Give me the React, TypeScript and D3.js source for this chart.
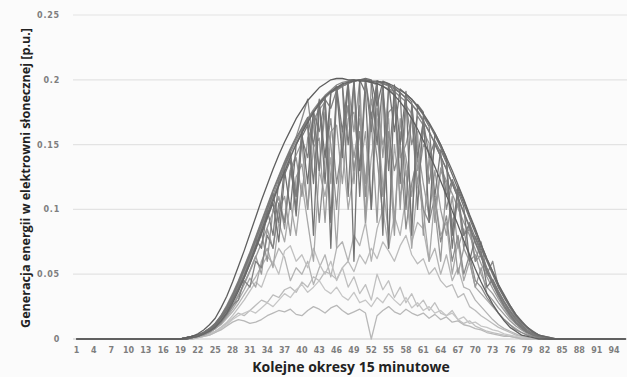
import * as d3 from "d3";

// 15-minute periods of the day
const periods = d3.range(1, 97);
// values below start at period 20 and end at period 84; outside that the plant produces 0
const firstPeriod = 20;

const yTicks = [0, 0.05, 0.1, 0.15, 0.2, 0.25];
const yTickLabels = ["0", "0.05", "0.1", "0.15", "0.2", "0.25"];

// daily generation profiles [p.u.], periods 20..84
const dayA = [.001,.002,.004,.007,.011,.016,.024,.033,.044,.056, .068,.081,.094,.107,.119,.131,.142,.152,.161,.170, .177,.184,.189,.194,.197,.200,.201,.201,.200,.200, .199,.199,.198,.197,.195,.192,.188,.183,.177,.170, .162,.153,.143,.133,.122,.111,.099,.088,.076,.065, .054,.044,.035,.027,.020,.014,.009,.006,.003,.002, .001,0,0,0,0];
const dayB = [.001,.002,.003,.005,.008,.012,.018,.025,.034,.044, .055,.066,.078,.090,.102,.114,.125,.136,.146,.155, .163,.171,.150,.185,.120,.190,.195,.160,.199,.200, .130,.200,.198,.150,.197,.196,.194,.190,.186,.181, .140,.168,.160,.151,.141,.131,.120,.109,.098,.087, .075,.064,.053,.043,.034,.026,.019,.013,.009,.005, .003,.002,.001,0,0];
const dayC = [0,.001,.002,.004,.006,.009,.014,.020,.028,.037, .047,.058,.070,.082,.094,.106,.118,.129,.140,.150, .159,.167,.175,.182,.187,.191,.194,.197,.198,.199, .200,.200,.199,.199,.198,.197,.195,.192,.189,.185, .180,.174,.167,.159,.150,.140,.130,.119,.108,.096, .085,.073,.062,.052,.042,.034,.026,.019,.014,.009, .006,.003,.002,.001,0];
const dayD = [.001,.002,.003,.005,.008,.012,.017,.024,.033,.043, .054,.065,.077,.070,.100,.112,.090,.134,.144,.100, .160,.168,.120,.182,.187,.090,.194,.196,.150,.199, .110,.200,.170,.199,.080,.197,.190,.120,.188,.183, .100,.172,.164,.110,.146,.136,.070,.114,.102,.060, .079,.068,.040,.046,.037,.029,.022,.016,.011,.007, .004,.002,.001,0,0];
const dayE = [.001,.001,.002,.004,.006,.009,.013,.019,.026,.030, .045,.040,.060,.055,.080,.070,.105,.090,.130,.110, .155,.140,.175,.160,.185,.178,.192,.195,.197,.199, .200,.200,.199,.198,.197,.195,.193,.190,.186,.181, .175,.168,.160,.151,.141,.131,.120,.109,.097,.086, .074,.063,.052,.042,.033,.025,.018,.012,.008,.005, .003,.001,.001,0,0];
const dayF = [.001,.002,.003,.004,.007,.010,.015,.021,.029,.038, .048,.059,.070,.082,.060,.100,.110,.085,.128,.140, .110,.155,.165,.130,.175,.150,.100,.160,.180,.140, .170,.120,.185,.160,.110,.175,.180,.140,.150,.170, .120,.150,.145,.100,.130,.120,.090,.105,.080,.085, .060,.065,.050,.045,.035,.028,.020,.014,.010,.006, .004,.002,.001,0,0];
const dayG = [0,.001,.002,.004,.006,.010,.014,.020,.028,.037, .047,.058,.069,.081,.093,.105,.075,.127,.138,.095, .156,.165,.080,.180,.186,.070,.193,.140,.198,.060, .200,.190,.100,.199,.198,.070,.196,.150,.191,.080, .181,.175,.090,.159,.150,.140,.080,.118,.107,.095, .084,.073,.062,.052,.042,.033,.026,.019,.013,.009, .005,.003,.001,0,0];
const dayH = [.001,.002,.003,.005,.008,.011,.016,.023,.031,.041, .052,.063,.075,.087,.099,.111,.123,.134,.144,.153, .162,.170,.177,.183,.188,.192,.196,.198,.199,.200, .200,.199,.198,.197,.195,.193,.191,.187,.183,.150, .172,.165,.120,.150,.141,.100,.121,.110,.070,.090, .060,.075,.050,.060,.040,.032,.024,.017,.012,.008, .005,.003,.001,0,0];
const dayI = [.001,.001,.003,.004,.007,.011,.016,.022,.030,.040, .050,.062,.073,.085,.097,.109,.120,.131,.141,.151, .160,.168,.175,.181,.186,.190,.193,.150,.196,.120, .180,.110,.170,.090,.190,.150,.080,.170,.130,.090, .160,.080,.140,.100,.060,.120,.090,.050,.070,.060, .040,.055,.035,.030,.024,.019,.014,.010,.007,.004, .002,.001,0,0,0];
const dayJ = [.001,.001,.002,.004,.006,.009,.013,.019,.026,.034, .043,.053,.064,.050,.085,.070,.100,.110,.080,.125, .135,.100,.148,.155,.090,.160,.165,.120,.170,.175, .130,.160,.100,.178,.150,.170,.090,.160,.140,.110, .150,.120,.095,.130,.100,.080,.110,.070,.085,.060, .065,.050,.040,.035,.028,.022,.016,.012,.008,.005, .003,.001,.001,0,0];
const dayK = [0,.001,.002,.003,.005,.008,.012,.017,.023,.030, .038,.047,.040,.060,.070,.055,.090,.075,.105,.080, .120,.090,.060,.130,.110,.140,.070,.150,.100,.130, .160,.090,.140,.170,.120,.080,.150,.110,.130,.070, .120,.100,.060,.110,.080,.090,.050,.075,.045,.060, .040,.035,.030,.025,.020,.015,.011,.008,.005,.003, .002,.001,0,0,0];
const dayL = [.001,.002,.003,.005,.007,.011,.016,.022,.030,.039, .049,.060,.072,.084,.096,.108,.119,.130,.100,.150, .159,.120,.175,.181,.140,.190,.193,.196,.198,.199, .200,.201,.200,.180,.199,.197,.160,.193,.189,.185, .179,.173,.166,.157,.148,.138,.127,.116,.105,.093, .082,.070,.060,.050,.040,.032,.025,.018,.013,.009, .005,.003,.002,.001,0];
const dayM = [0,.001,.002,.003,.004,.006,.009,.013,.018,.024, .030,.037,.044,.040,.052,.060,.050,.068,.072,.060, .065,.055,.070,.058,.050,.060,.045,.055,.040,.048, .035,.042,.030,.050,.038,.045,.032,.040,.028,.035, .025,.030,.022,.028,.020,.018,.022,.015,.012,.014, .010,.008,.006,.005,.004,.003,.002,.001,.001,0, 0,0,0,0,0];
const dayN = [0,0,.001,.002,.003,.005,.008,.011,.015,.018, .020,.022,.020,.024,.028,.025,.030,.035,.032,.038, .042,.036,.040,.045,.038,.035,.040,.033,.030,.036, .028,.030,.025,.032,.028,.035,.030,.026,.032,.024, .028,.022,.025,.020,.022,.018,.020,.015,.017,.012, .013,.010,.009,.007,.006,.004,.003,.002,.001,0, 0,0,0,0,0];
const dayO = [0,0,.001,.002,.003,.005,.007,.010,.013,.015, .014,.012,.013,.015,.018,.020,.022,.021,.023,.019, .018,.022,.025,.023,.020,.024,.026,.022,.019,.021, .023,.020,0,.018,.022,.025,.021,.019,.023,.020, .018,.020,.016,.019,.015,.017,.013,.014,.011,.010, .008,.007,.005,.004,.003,.002,.002,.001,0,0, 0,0,0,0,0];
const dayP = [0,.001,.001,.002,.004,.006,.009,.012,.016,.020, .018,.022,.026,.030,.028,.034,.032,.038,.040,.036, .044,.040,.048,.045,.052,.050,.046,.055,.060,.052, .065,.058,.070,.062,.075,.068,.060,.072,.080,.065, .058,.062,.050,.055,.045,.040,.042,.032,.035,.025, .022,.018,.015,.012,.009,.007,.005,.003,.002,.001, 0,0,0,0,0];
const dayQ = [0,.001,.002,.003,.005,.008,.011,.016,.021,.027, .034,.041,.048,.056,.064,.058,.070,.063,.045,.055, .050,.060,.042,.055,.065,.048,.070,.075,.060,.080, .072,.090,.060,.085,.100,.070,.095,.080,.110,.075, .090,.085,.060,.070,.050,.065,.045,.055,.040,.038, .030,.025,.020,.015,.011,.008,.006,.004,.002,.001, 0,0,0,0,0];
const dayR = [.001,.002,.003,.005,.008,.012,.017,.024,.032,.042, .053,.064,.076,.088,.100,.080,.122,.133,.143,.110, .161,.169,.176,.130,.187,.191,.194,.196,.110,.199, .200,.200,.160,.199,.197,.130,.193,.190,.100,.181, .176,.169,.140,.153,.144,.110,.123,.112,.080,.089, .078,.066,.055,.045,.036,.028,.021,.015,.010,.006, .004,.002,.001,0,0];
const dayS = [0,.001,.002,.003,.005,.008,.012,.018,.025,.033, .042,.052,.063,.074,.086,.098,.109,.090,.131,.142, .152,.100,.169,.177,.183,.120,.192,.195,.197,.160, .199,.090,.198,.196,.140,.193,.189,.100,.180,.174, .130,.160,.151,.090,.132,.122,.112,.101,.090,.080, .069,.058,.048,.039,.031,.024,.017,.012,.008,.005, .003,.002,.001,0,0];
const dayT = [.001,.002,.003,.005,.008,.012,.018,.026,.035,.045, .056,.067,.079,.091,.103,.115,.126,.137,.147,.156, .170,.185,.150,.090,.140,.170,.120,.150,.180,.130, .160,.110,.175,.140,.095,.160,.130,.150,.085,.120, .140,.100,.090,.110,.075,.095,.060,.080,.050,.065, .045,.040,.032,.026,.020,.015,.011,.007,.005,.003, .002,.001,0,0,0];

const days = [dayQ, dayP, dayM, dayN, dayO, dayK, dayJ, dayF, dayI, dayT, dayS, dayH, dayE, dayR, dayG, dayD, dayB, dayL, dayC, dayA];
const dayColors = ["#b4b4b4", "#bcbcbc", "#c0c0c0", "#c6c6c6", "#b8b8b8", "#a8a8a8", "#9c9c9c", "#959595", "#9a9a9a", "#8c8c8c", "#999999", "#8a8a8a", "#828282", "#7c7c7c", "#737373", "#787878", "#777777", "#707070", "#676767", "#5e5e5e"];

const W = 627;
const H = 377;

export default function App() {
  const x = d3.scalePoint<number>().domain(periods).range([76.5, 76.5 + 95 * 5.78]);
  const y = d3.scaleLinear().domain([0, 0.25]).range([339, 15]);

  const series = days.map((vals) =>
    periods.map((p) => {
      const i = p - firstPeriod;
      return { p, v: i >= 0 && i < vals.length ? vals[i] : 0 };
    })
  );

  const line = d3
    .line<{ p: number; v: number }>()
    .x((d) => x(d.p) ?? 0)
    .y((d) => y(d.v));

  const xTickPeriods = periods.filter((p) => (p - 1) % 3 === 0);

  return (
    <svg width={W} height={H} style={{ position: "absolute", left: 0, top: 0, background: "#fbfbfb" }}>
      <rect x={0} y={0} width={W} height={H} fill="#fbfbfb" />
      {/* gridlines */}
      {yTicks.map((t) => (
        <line key={t} x1={73} x2={W} y1={y(t)} y2={y(t)} stroke={t === 0 ? "#c8c8c8" : "#e3e3e3"} strokeWidth={1.2} />
      ))}
      {/* y tick labels */}
      {yTicks.map((t, i) => (
        <text key={t} x={60} y={y(t) + 3} textAnchor="end" fontFamily="DejaVu Sans" fontWeight="bold" fontSize={8} letterSpacing={0.8} fill="#7e7e7e">
          {yTickLabels[i]}
        </text>
      ))}
      {/* x tick labels */}
      {xTickPeriods.map((p) => (
        <text key={p} x={x(p)} y={353} textAnchor="middle" fontFamily="DejaVu Sans" fontWeight="bold" fontSize={8} fill="#7e7e7e">
          {p}
        </text>
      ))}
      {/* day profiles */}
      {series.map((s, i) => (
        <path key={i} d={line(s) ?? ""} fill="none" stroke={dayColors[i]} strokeWidth={1.3} strokeLinejoin="round" />
      ))}
      {/* axis titles */}
      <text x={351} y={372} textAnchor="middle" fontFamily="Open Sans" fontWeight="bold" fontSize={14} fill="#222">
        Kolejne okresy 15 minutowe
      </text>
      <text
        transform="translate(30,178) rotate(-90)"
        textAnchor="middle"
        fontFamily="Open Sans"
        fontWeight="bold"
        fontSize={12.5}
        fill="#222"
        textLength={300}
        lengthAdjust="spacingAndGlyphs"
      >
        Generacja energii w elektrowni słonecznej [p.u.]
      </text>
    </svg>
  );
}
